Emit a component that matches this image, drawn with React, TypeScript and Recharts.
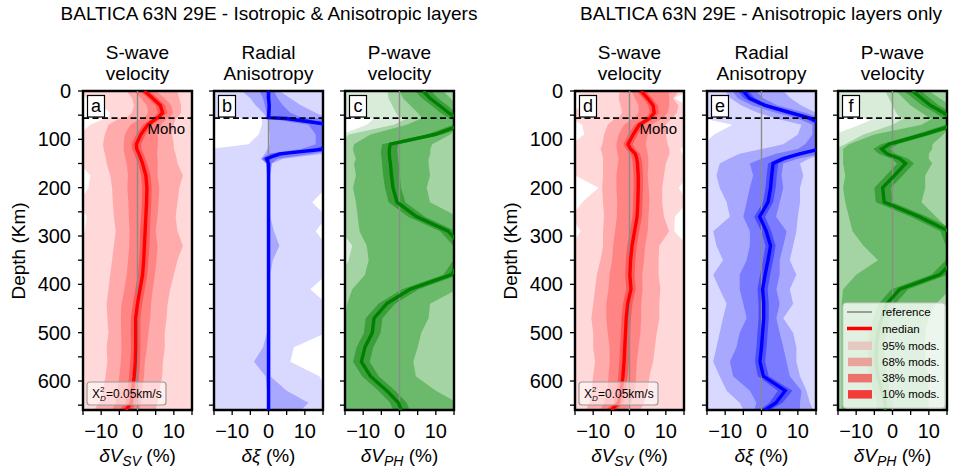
import { Area, ComposedChart, Line, ReferenceArea, ReferenceLine, XAxis, YAxis } from 'recharts';

// depth samples (km) shared by every profile
const DEPTH = [0, 15, 30, 45, 55, 57, 70, 90, 110, 120, 130, 140, 150, 175, 200, 230, 260, 290, 320, 350, 380, 410, 440, 470, 500, 530, 560, 590, 620, 645, 660];

const X_TICKS = [-15, -10, -5, 0, 5, 10, 15];
const X_TICK_LABELS = ['−10', '0', '10'];
const Y_TICKS = [0, 50, 100, 150, 200, 250, 300, 350, 400, 450, 500, 550, 600, 650];
const Y_TICK_LABELS = ['0', '100', '200', '300', '400', '500', '600'];
const MOHO_DEPTH = 56;

// panel a: S-wave, isotropic & anisotropic
const aMed = [1.9, 4.2, 6.3, 6.9, 5.7, 5.1, 2.8, 0.9, -0.3, -0.2, 0.4, 0.9, 1.4, 2.3, 2.6, 2.5, 2.3, 2.1, 1.9, 1.7, 1.4, 0.7, 0, -0.5, -0.5, -0.5, -0.6, -0.9, -1.4, -1.7, -3.2];
const a10lo = [0.6, 2.9, 5.0, 5.6, 4.4, 3.8, 1.5, -0.4, -1.6, -1.5, -0.9, -0.4, 0.2, 1.0, 1.3, 1.2, 1.0, 0.7, 0.6, 0.4, 0.1, -0.6, -1.3, -1.8, -1.9, -1.8, -2.0, -2.3, -2.8, -3.2, -5.0];
const a10hi = [3.2, 5.6, 7.6, 8.2, 7.0, 6.4, 4.1, 2.2, 1.0, 1.1, 1.7, 2.2, 2.7, 3.6, 3.9, 3.8, 3.6, 3.4, 3.3, 3.0, 2.7, 2.0, 1.3, 0.8, 0.8, 0.8, 0.7, 0.4, 0.0, -0.3, -1.5];
const a38lo = [-1.0, 1.0, 2.5, 3.0, 2.0, 1.0, -2.0, -3.5, -3.8, -3.8, -3.6, -3.3, -3.0, -2.6, -2.8, -2.5, -2.4, -2.2, -2.3, -2.6, -3.0, -3.6, -4.4, -4.6, -4.5, -4.4, -4.6, -5.0, -5.5, -6.0, -7.0];
const a38hi = [5.0, 7.5, 9.3, 9.8, 8.8, 8.0, 6.5, 5.5, 5.6, 5.5, 5.4, 5.5, 5.6, 5.5, 6.0, 5.8, 5.5, 5.0, 5.5, 5.2, 4.8, 4.2, 3.7, 3.5, 3.0, 2.6, 2.0, 1.8, 1.2, 1.0, 0.5];
const a68lo = [-3.0, -1.5, -1.0, -1.5, -3.0, -5.0, -8.0, -9.0, -9.5, -9.3, -9.0, -8.7, -8.5, -7.5, -7.0, -6.8, -6.5, -6.0, -6.5, -7.0, -7.5, -8.0, -8.5, -8.3, -8.0, -8.5, -8.3, -8.8, -9.5, -10.5, -12.0];
const a68hi = [11.0, 11.5, 12.0, 12.0, 11.0, 10.5, 10.0, 9.5, 10.0, 10.0, 10.5, 10.8, 11.0, 12.5, 11.5, 11.0, 10.5, 11.0, 12.5, 11.0, 10.0, 9.0, 8.3, 8.0, 7.5, 7.5, 7.0, 6.8, 6.0, 5.5, 5.0];
const a95lo = [-16, -14, -10, -7.5, -8, -9, -13, -16, -16, -16, -16, -16, -16, -13, -13.5, -16, -14, -14.5, -16, -16, -16, -16, -16, -16, -16, -16, -16, -16, -16, -16, -16];
const a95hi = [16, 16, 16, 16, 16, 16, 16, 16, 16, 16, 16, 16, 16, 16, 16, 16, 16, 16, 16, 16, 16, 16, 16, 16, 16, 16, 16, 16, 16, 16, 16];

// panel b: radial anisotropy, isotropic & anisotropic
const bMed = [0, 0, 0.2, 0.1, 0, 5, 17, 17, 17, 15.5, 3, -0.5, 0, 0, 0, 0, 0, 0, 0, 0, 0, 0, 0, 0, 0, 0, 0, 0, 0, 0, 0];
const b10lo = [-0.5, -0.5, -0.3, -0.4, -0.5, 1, 15, 15.5, 15.5, 13, 1, -1.5, -0.3, -0.3, -0.3, -0.3, -0.3, -0.3, -0.3, -0.3, -0.3, -0.3, -0.3, -0.3, -0.3, -0.3, -0.3, -0.3, -0.3, -0.3, -0.3];
const b10hi = [0.5, 0.5, 0.7, 0.6, 0.5, 10, 18, 18, 18, 17.5, 6, 0.5, 0.3, 0.3, 0.3, 0.3, 0.3, 0.3, 0.3, 0.3, 0.3, 0.3, 0.3, 0.3, 0.3, 0.3, 0.3, 0.3, 0.3, 0.3, 0.3];
const b38lo = [-2.5, -1.5, -1, -0.6, -0.5, 0, 11, 13, 13, 9, 0, -2, -0.6, -0.4, -0.4, -0.4, -0.4, -0.4, -0.4, -0.4, -0.4, -0.4, -0.4, -0.4, -0.4, -0.4, -0.4, -0.4, -0.4, -0.4, -0.4];
const b38hi = [1.5, 2.5, 4, 6, 9, 15, 18, 18, 18, 18, 12, 2.5, 0.8, 0.5, 0.5, 0.5, 0.5, 0.5, 0.5, 0.5, 0.5, 0.5, 0.5, 0.5, 0.5, 0.5, 0.5, 0.5, 0.5, 0.5, 0.5];
const b68lo = [-7.3, -5, -3.5, -1.5, -0.5, 0, 0, 0.3, 0.3, -0.3, -1, -2, -0.5, -0.4, -0.4, -0.4, -0.4, -0.4, -0.4, -0.4, -0.4, -0.4, -0.4, -0.4, -0.4, -1.5, -4, -0.8, -0.4, -0.4, -0.4];
const b68hi = [3, 6, 9, 13, 16, 17, 17, 17, 17, 17, 15, 4, 1, 0.5, 0.5, 0.5, 0.5, 1.5, 3, 1.2, 0.5, 0.5, 0.5, 0.5, 0.5, 0.5, 0.5, 0.5, 5, 11, 9];
const b95lo = [-16, -16, -16, -16, -16, -1.8, -1.8, -2.7, -5.5, -16, -16, -16, -16, -16, -16, -16, -16, -16, -16, -16, -16, -16, -16, -16, -16, -16, -16, -16, -16, -16, -16];
const b95hi = [16, 16, 16, 16, 16, 16, 16, 16, 16, 16, 16, 16, 16, 16, 16, 12, 16, 13, 16, 16, 16, 11.5, 16, 16, 16, 7, 6, 14, 16, 16, 16];

// panel c: P-wave, isotropic & anisotropic
const cMed = [6.5, 8.4, 11, 13.5, 15.5, 17, 17, 9.7, -2.5, -2.8, -2.8, -2.7, -2.5, -2.2, -1.8, -0.7, 4.7, 13.4, 17, 17, 14.3, 3, -3.5, -7, -7.5, -9.5, -10.5, -8, -3.5, -0.3, 0.5];
const c10lo = [4.3, 6.2, 8.8, 11.3, 13.3, 14.8, 14.8, 7.5, -4.8, -5.0, -5.1, -4.9, -4.8, -4.5, -4.0, -3.0, 2.4, 11.2, 14.8, 14.8, 12.1, 0.7, -5.8, -9.3, -9.8, -11.8, -12.8, -10.3, -5.8, -2.6, -1.8];
const c10hi = [8.7, 10.6, 13.2, 15.7, 17.7, 19.2, 19.2, 11.9, -0.3, -0.6, -0.5, -0.4, -0.2, 0.1, 0.4, 1.6, 7.0, 15.6, 19.2, 19.2, 16.5, 5.3, -1.2, -4.7, -5.2, -7.2, -8.2, -5.7, -1.2, 2.0, 2.8];
const c38lo = [0, 1, 3, 5, 6, 6, 2, -8, -12.5, -12.8, -12.5, -12, -12.5, -12, -12.8, -12, -11.5, -11, -9, -8.5, -9.5, -13, -14.4, -15, -16, -16, -16, -16, -16, -16, -16];
const c38hi = [12, 14, 16, 16, 16, 16, 16, 14, 9, 8.5, 8.5, 8, 8, 8.4, 7.5, 8.4, 16, 16, 16, 16, 16, 16, 8.4, 8, 6, 5, 3.8, 4.5, 10, 16, 16];
const c68lo = [-3.3, -3, -2, -1, 0, 2, -1.5, -14, -16, -16, -16, -16, -16, -16, -16, -16, -16, -16, -13, -14, -16, -16, -16, -16, -16, -16, -16, -16, -16, -16, -16];
const c68hi = [16, 16, 16, 16, 16, 16, 16, 16, 16, 16, 16, 16, 16, 16, 16, 16, 16, 16, 16, 16, 16, 16, 16, 16, 16, 16, 16, 16, 16, 16, 16];
const c95lo = [-16, -16, -16, -16, -16, -7, -9, -16, -16, -16, -16, -16, -16, -16, -16, -16, -16, -16, -16, -16, -16, -16, -16, -16, -16, -16, -16, -16, -16, -16, -16];
const c95hi = [16, 16, 16, 16, 16, 16, 16, 16, 16, 16, 16, 16, 16, 16, 16, 16, 16, 16, 16, 16, 16, 16, 16, 16, 16, 16, 16, 16, 16, 16, 16];

// panel d: S-wave, anisotropic layers only
const dMed = [3.2, 5, 6.5, 6.8, 5.8, 5.4, 2.7, 1, -0.4, 0.3, 1.6, 2, 2.2, 2.4, 2.4, 2.3, 2.1, 1.4, 0.7, 0.3, 0.1, 0.4, -0.5, -0.9, -1.1, -1.3, -1.5, -1.8, -2.3, -3, -5];
const d10lo = [1.9, 3.7, 5.2, 5.5, 4.5, 4.1, 1.4, -0.3, -1.7, -1.0, 0.3, 0.7, 0.9, 1.1, 1.1, 1.0, 0.8, 0.1, -0.6, -1.0, -1.2, -0.9, -1.8, -2.2, -2.4, -2.6, -2.8, -3.1, -3.6, -4.3, -6.5];
const d10hi = [4.5, 6.3, 7.8, 8.1, 7.1, 6.7, 4.0, 2.3, 0.9, 1.6, 2.9, 3.3, 3.5, 3.7, 3.7, 3.6, 3.4, 2.7, 2.0, 1.6, 1.4, 1.7, 0.8, 0.4, 0.2, 0.0, -0.2, -0.5, -1.0, -1.7, -3.5];
const d38lo = [0.5, 1.5, 2.5, 2.5, 1.5, 1, -1.5, -3, -3.6, -3.5, -3.3, -3, -3.2, -3.6, -3.6, -3.4, -3.5, -4, -4.5, -4.8, -5.5, -5.8, -6.4, -6.4, -6, -5.5, -5.5, -5.8, -6, -7, -8];
const d38hi = [10.9, 10.9, 11, 10.5, 9.5, 9, 6, 5, 4.5, 4.8, 5, 5.2, 5.2, 5, 5.3, 5.5, 5.2, 5, 4.3, 4, 3.5, 3.6, 3.2, 3.2, 3, 2.5, 2, 1.8, 1.5, 0.5, -1];
const d68lo = [-2.7, -3, -2.5, -2, -3, -4, -6, -7, -7.5, -8, -7.5, -7.3, -7.3, -7.3, -7.5, -7.3, -7, -7.3, -7.3, -8, -9, -9.5, -10, -10.5, -10, -10, -9.5, -10, -10.5, -11, -12];
const d68hi = [13.6, 12, 13.5, 13, 12, 11.5, 10, 10, 10.5, 11, 11, 10.5, 10, 9.5, 9, 9, 9.5, 10.9, 8.2, 8, 8, 8.5, 8.2, 8.2, 7.5, 7, 6.5, 5.5, 5, 4, 3];
const d95lo = [-16, -10, -13, -16, -16, -16, -13, -12.5, -16, -16, -16, -16, -16, -15, -8.5, -13, -16, -13.5, -16, -16, -16, -16, -16, -16, -16, -16, -16, -16, -16, -16, -16];
const d95hi = [16, 12.3, 16, 16, 16, 16, 16, 16, 16, 14, 14.5, 16, 16, 16, 13.6, 16, 12.5, 12.3, 16, 16, 16, 16, 16, 16, 16, 16, 16, 16, 16, 16, 16];

// panel e: radial anisotropy, anisotropic layers only
const eMed = [-5, -3.3, 1, 8, 12.8, 13.6, 17, 17, 17, 16, 10.5, 6, 3.2, 2.8, 2.5, 1.8, -0.5, 1.3, 2.5, 1.8, 1, 0.3, 0.6, 0.6, 0.3, 0, -0.4, 0.5, 6.5, 4, 1];
const e10lo = [-6.5, -4.8, -0.5, 6.3, 11.2, 12, 15.5, 15.5, 15.5, 14.3, 8.8, 4.5, 1.8, 1.4, 1.1, 0.4, -2, -0.1, 1.1, 0.4, -0.4, -1.1, -0.8, -0.8, -1.1, -1.4, -1.8, -1, 4.5, 2.2, -0.5];
const e10hi = [-3.5, -1.8, 2.5, 9.7, 14.4, 15.2, 18.5, 18.5, 18.5, 17.7, 12.2, 7.5, 4.6, 4.2, 3.9, 3.2, 1, 2.7, 3.9, 3.2, 2.4, 1.7, 2, 2, 1.7, 1.4, 1, 2, 8.5, 5.8, 2.5];
const e38lo = [-8, -6.5, -2.5, 4, 9, 10, 14, 14, 12, 10, 4, 0, -3.2, -2.3, -3.2, -4.1, -5, -3.2, -3.2, -4.1, -6, -6, -5, -4.1, -6, -6.9, -8.7, -7.8, -3.2, -1.4, -2];
const e38hi = [-1.5, 0.5, 4.5, 12, 16, 17, 18, 18, 18, 18, 16, 10, 6, 5.5, 6, 5, 4, 6.9, 6, 5, 5, 4.1, 5, 4.1, 5, 6, 6.9, 7.8, 11, 10.6, 10.6];
const e68lo = [-10, -8.5, -5.5, -1, 3, 4, 11, 10, 6, 0, -6, -9, -11.5, -12.4, -11.5, -9.6, -8.7, -13.3, -12.4, -10.6, -13.3, -11.5, -9.6, -10.6, -11.5, -12.4, -13.3, -11.5, -9.6, -6, -5];
const e68hi = [6, 8, 11, 15, 17, 17, 18, 18, 18, 18, 17, 13, 10.6, 11.5, 10.6, 10.6, 10, 9.6, 8.7, 7.8, 9.6, 7.8, 8.7, 6, 8.7, 9.6, 9.6, 10.6, 12.4, 13.3, 14.2];
const e95lo = [-16, -16, -16, -16, -16, -16, -8, -13, -16, -16, -16, -16, -16, -16, -16, -16, -16, -16, -16, -16, -16, -16, -16, -16, -16, -16, -16, -16, -16, -16, -16];
const e95hi = [16, 16, 16, 16, 16, 16, 16, 16, 16, 16, 16, 16, 16, 16, 16, 16, 16, 16, 16, 16, 16, 16, 16, 16, 16, 16, 16, 16, 16, 16, 16];

// panel f: P-wave, anisotropic layers only
const fMed = [5.5, 8, 10.5, 14, 16, 17, 17, 8.5, -0.9, -3, -1.5, 2, 3.6, 0.5, -2.7, -2.3, 7.3, 15.5, 17, 17, 13, 2, -1.5, -3, -4, -4.5, -4.5, -4, -3, -2, -2];
const f10lo = [3.2, 5.7, 8.2, 11.7, 13.7, 14.7, 14.7, 6.2, -3.2, -5.3, -3.8, -0.3, 1.3, -1.8, -5.0, -4.6, 5.0, 13.2, 14.7, 14.7, 10.7, -0.3, -3.8, -5.3, -6.3, -6.8, -6.8, -6.3, -5.3, -4.3, -4.3];
const f10hi = [7.8, 10.3, 12.8, 16.3, 18.3, 19.3, 19.3, 10.8, 1.4, -0.7, 0.8, 4.3, 5.9, 2.8, -0.4, 0.0, 9.6, 17.8, 19.3, 19.3, 15.3, 4.3, 0.8, -0.7, -1.7, -2.2, -2.2, -1.7, -0.7, 0.3, 0.3];
const f38lo = [1, 3, 5, 8, 10, 11, 8, -5, -12, -13.6, -13.6, -13.6, -13.6, -13, -13.6, -13, -12, -11, -8, -4, -10, -13.6, -14, -14, -14, -14, -14, -14, -14, -14, -14];
const f38hi = [10, 13, 16, 16, 16, 16, 16, 14, 11, 10.9, 10, 10, 10.9, 9, 9, 8, 12, 16, 16, 16, 16, 16, 12, 10, 9, 9, 9, 10, 10, 10, 10];
const f68lo = [-2, -1, 0, 1, 2, 3, 0, -8, -13, -16, -16, -16, -16, -16, -16, -16, -16, -16, -16, -16, -16, -16, -16, -16, -16, -16, -16, -16, -16, -16, -16];
const f68hi = [16, 16, 16, 16, 16, 16, 16, 16, 16, 16, 16, 16, 16, 16, 16, 16, 16, 16, 16, 16, 16, 16, 16, 16, 16, 16, 16, 16, 16, 16, 16];
const f95lo = [-16, -16, -16, -16, -16, -5, -9, -16, -16, -16, -16, -16, -16, -16, -16, -16, -16, -16, -16, -16, -16, -16, -16, -16, -16, -16, -16, -16, -16, -16, -16];
const f95hi = [16, 16, 16, 16, 16, 16, 16, 16, 16, 16, 16, 16, 16, 16, 16, 16, 16, 16, 16, 16, 16, 16, 16, 16, 16, 16, 16, 16, 16, 16, 16];

const FONT = '"Liberation Sans", Arial, Helvetica, sans-serif';

const RED = { p95: '#ffd9d9', p68: '#ffabab', p38: '#ff8585', p10: '#ff5a5a', med: '#ff0000' };
const BLUE = { p95: '#d9d9ff', p68: '#a8a8ff', p38: '#7b7bff', p10: '#4c4cff', med: '#0000ff' };
const GREEN = { p95: '#d9ecd9', p68: '#a4d3a4', p38: '#6bba6b', p10: '#3c9f3c', med: '#008000' };

const LEGEND_ROWS = ['95% mods.', '68% mods.', '38% mods.', '10% mods.'];
const LEGEND_SWATCH = ['#e7c8c0', '#e9a39b', '#ec736d', '#f23c3a'];

// plot box geometry (px)
const PLOT_TOP = 91;
const PLOT_H = 319;
const PLOT_W = 109;
const AXIS_W = 45;
const PAD_TOP = 14;
const PAD = 4;
const XAXIS_H = 50;

type Pal = typeof RED;
type PanelDef = {
  id: string;
  x0: number;
  pal: Pal;
  med: number[];
  b95: number[][];
  b68: number[][];
  b38: number[][];
  b10: number[][];
  yLabels: boolean;
  kind: 'sv' | 'xi' | 'ph';
};

const PANELS: PanelDef[] = [
  { id: 'a', x0: 83, pal: RED, med: aMed, b95: [a95lo, a95hi], b68: [a68lo, a68hi], b38: [a38lo, a38hi], b10: [a10lo, a10hi], yLabels: true, kind: 'sv' },
  { id: 'b', x0: 214, pal: BLUE, med: bMed, b95: [b95lo, b95hi], b68: [b68lo, b68hi], b38: [b38lo, b38hi], b10: [b10lo, b10hi], yLabels: false, kind: 'xi' },
  { id: 'c', x0: 345, pal: GREEN, med: cMed, b95: [c95lo, c95hi], b68: [c68lo, c68hi], b38: [c38lo, c38hi], b10: [c10lo, c10hi], yLabels: false, kind: 'ph' },
  { id: 'd', x0: 575, pal: RED, med: dMed, b95: [d95lo, d95hi], b68: [d68lo, d68hi], b38: [d38lo, d38hi], b10: [d10lo, d10hi], yLabels: true, kind: 'sv' },
  { id: 'e', x0: 707, pal: BLUE, med: eMed, b95: [e95lo, e95hi], b68: [e68lo, e68hi], b38: [e38lo, e38hi], b10: [e10lo, e10hi], yLabels: false, kind: 'xi' },
  { id: 'f', x0: 838, pal: GREEN, med: fMed, b95: [f95lo, f95hi], b68: [f68lo, f68hi], b38: [f38lo, f38hi], b10: [f10lo, f10hi], yLabels: false, kind: 'ph' },
];

const SUBTITLES: Record<string, [string, string]> = {
  sv: ['S-wave', 'velocity'],
  xi: ['Radial', 'Anisotropy'],
  ph: ['P-wave', 'velocity'],
};

function Profile({ p }: { p: PanelDef }) {
  const rows = DEPTH.map((depth, i) => ({
    depth,
    med: p.med[i],
    r95: [p.b95[0][i], p.b95[1][i]],
    r68: [p.b68[0][i], p.b68[1][i]],
    r38: [p.b38[0][i], p.b38[1][i]],
    r10: [p.b10[0][i], p.b10[1][i]],
  }));
  const band = (key: string, color: string) => (
    <Area
      dataKey={key}
      type="linear"
      stroke="none"
      fill={color}
      fillOpacity={1}
      dot={false}
      activeDot={false}
      isAnimationActive={false}
    />
  );
  return (
    <div style={{ position: 'absolute', left: p.x0 - AXIS_W, top: PLOT_TOP - PAD_TOP }}>
      <ComposedChart
        layout="vertical"
        width={AXIS_W + PLOT_W + PAD}
        height={PAD_TOP + PLOT_H + XAXIS_H}
        data={rows}
        margin={{ top: PAD_TOP, right: PAD, bottom: 0, left: 0 }}
      >
        <XAxis
          type="number"
          domain={[-15, 15]}
          allowDataOverflow
          ticks={X_TICKS}
          interval={0}
          tickFormatter={(v: number) => (v === -10 ? X_TICK_LABELS[0] : v === 0 ? X_TICK_LABELS[1] : v === 10 ? X_TICK_LABELS[2] : '')}
          tick={{ fontSize: 20, fill: '#000', fontFamily: FONT }}
          tickLine={{ stroke: '#000', strokeWidth: 1.3 }}
          tickSize={5}
          tickMargin={9}
          axisLine={false}
          height={XAXIS_H}
        />
        <YAxis
          type="number"
          dataKey="depth"
          domain={[0, 660]}
          allowDataOverflow
          ticks={Y_TICKS}
          interval={0}
          tickFormatter={(v: number) => (p.yLabels && Y_TICK_LABELS.includes(String(v)) ? String(v) : '')}
          tick={{ fontSize: 20, fill: '#000', fontFamily: FONT }}
          tickLine={{ stroke: '#000', strokeWidth: 1.3 }}
          tickSize={5}
          tickMargin={7}
          axisLine={false}
          width={AXIS_W}
        />
        {band('r95', p.pal.p95)}
        {band('r68', p.pal.p68)}
        {band('r38', p.pal.p38)}
        {band('r10', p.pal.p10)}
        <ReferenceLine x={0} stroke="#8c8c8c" strokeWidth={1.4} />
        <Line
          dataKey="med"
          type="linear"
          stroke={p.pal.med}
          strokeWidth={3.4}
          dot={false}
          activeDot={false}
          isAnimationActive={false}
        />
        <ReferenceLine y={MOHO_DEPTH} stroke="#000" strokeWidth={1.7} strokeDasharray="6 3.5" />
        <ReferenceArea x1={-15} x2={15} y1={0} y2={660} fill="none" stroke="#000" strokeWidth={2.4} />
      </ComposedChart>
    </div>
  );
}

function XLabel({ kind, cx }: { kind: string; cx: number }) {
  if (kind === 'xi') {
    return (
      <text x={cx} y={462} textAnchor="middle" fontSize={19}>
        <tspan fontStyle="italic">δξ</tspan>
        <tspan> (%)</tspan>
      </text>
    );
  }
  return (
    <text x={cx} y={462} textAnchor="middle" fontSize={19}>
      <tspan fontStyle="italic">δV</tspan>
      <tspan fontStyle="italic" fontSize={14} dy={4}>{kind === 'sv' ? 'SV' : 'PH'}</tspan>
      <tspan dy={-4}> (%)</tspan>
    </text>
  );
}

function Overlay() {
  return (
    <svg
      width={953}
      height={475}
      style={{ position: 'absolute', left: 0, top: 0, pointerEvents: 'none' }}
      fontFamily={FONT}
      fill="#000"
    >
      <text x={269} y={20} textAnchor="middle" fontSize={19}>BALTICA 63N 29E - Isotropic &amp; Anisotropic layers</text>
      <text x={761} y={20} textAnchor="middle" fontSize={19}>BALTICA 63N 29E - Anisotropic layers only</text>
      {[25, 517].map((x) => (
        <text key={x} transform={`translate(${x},251) rotate(-90)`} textAnchor="middle" fontSize={19}>Depth (Km)</text>
      ))}
      {PANELS.map((p) => {
        const cx = p.x0 + PLOT_W / 2;
        const [l1, l2] = SUBTITLES[p.kind];
        return (
          <g key={p.id}>
            <text x={cx} y={59} textAnchor="middle" fontSize={19}>{l1}</text>
            <text x={cx} y={80} textAnchor="middle" fontSize={19}>{l2}</text>
            <XLabel kind={p.kind} cx={cx} />
            <rect x={p.x0 + 4.5} y={95.5} width={17} height={21.5} fill="#fff" stroke="#000" strokeWidth={1.2} />
            <text x={p.x0 + 13} y={112} textAnchor="middle" fontSize={18}>{p.id}</text>
            {p.kind === 'sv' && (
              <g>
                <text x={p.x0 + 102} y={134} textAnchor="end" fontSize={15}>Moho</text>
                <rect x={p.x0 + 4} y={382} width={79} height={23} rx={3} fill="#fff" fillOpacity={0.55} stroke="#999" strokeWidth={1.2} />
                <text x={p.x0 + 9} y={398} fontSize={12}>X</text>
                <text x={p.x0 + 17} y={392} fontSize={8}>2</text>
                <text x={p.x0 + 17} y={401} fontSize={8} fontStyle="italic">D</text>
                <text x={p.x0 + 23} y={398} fontSize={12}>=0.05km/s</text>
              </g>
            )}
          </g>
        );
      })}
      <g>
        <rect x={843} y={303} width={102} height={105} rx={3} fill="#fff" fillOpacity={0.8} stroke="#cccccc" strokeWidth={1} />
        <line x1={847} x2={872} y1={312} y2={312} stroke="#808080" strokeWidth={1.5} />
        <text x={882} y={316} fontSize={11.5}>reference</text>
        <line x1={847} x2={872} y1={328.5} y2={328.5} stroke="#ff0000" strokeWidth={3.5} />
        <text x={882} y={332.5} fontSize={11.5}>median</text>
        {LEGEND_ROWS.map((label, i) => (
          <g key={label}>
            <rect x={848} y={341.5 + i * 16.2} width={24} height={8.5} fill={LEGEND_SWATCH[i]} />
            <text x={882} y={349.5 + i * 16.2} fontSize={11.5}>{label}</text>
          </g>
        ))}
      </g>
    </svg>
  );
}

export default function App() {
  return (
    <div style={{ position: 'absolute', left: 0, top: 0, width: 953, height: 475, background: '#fff', fontFamily: FONT }}>
      {PANELS.map((p) => (
        <Profile key={p.id} p={p} />
      ))}
      <Overlay />
    </div>
  );
}
